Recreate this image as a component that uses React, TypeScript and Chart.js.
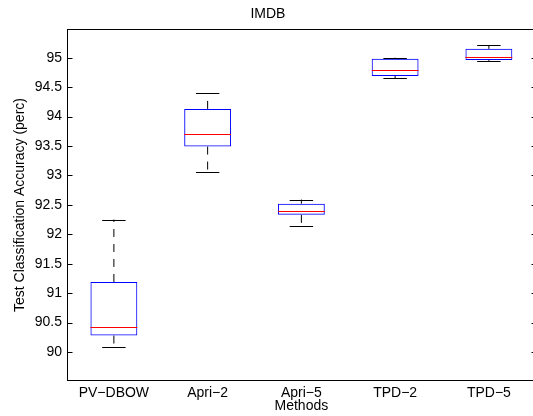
import React, { useEffect, useRef } from "react";
import { Chart, registerables } from "chart.js";

Chart.register(...registerables);

const methods = ["PV−DBOW", "Apri−2", "Apri−5", "TPD−2", "TPD−5"];
const whiskerLow = [90.085, 93.05, 92.14, 94.655, 94.94];
const q1 = [90.28, 93.49, 92.33, 94.69, 94.96];
const median = [90.42, 93.7, 92.4, 94.79, 95.01];
const q3 = [91.19, 94.13, 92.52, 94.98, 95.15];
const whiskerHigh = [92.25, 94.4, 92.59, 95.0, 95.21];
const yTicks = [90, 90.5, 91, 91.5, 92, 92.5, 93, 93.5, 94, 94.5, 95];

const FONT = "'Liberation Sans', Arial, Helvetica, sans-serif";

const boxExtras = {
  id: "boxExtras",
  beforeDatasetsDraw(chart: any) {
    const ctx = chart.ctx;
    const y = chart.scales.y;
    const meta = chart.getDatasetMeta(0);
    ctx.save();
    ctx.strokeStyle = "#000";
    ctx.lineWidth = 1;
    meta.data.forEach((bar: any, i: number) => {
      const x = bar.x;
      const half = bar.width / 2;
      const capHalf = half / 2;
      // dashed whiskers
      ctx.setLineDash([8, 7]);
      ctx.beginPath();
      ctx.moveTo(x, y.getPixelForValue(q3[i]));
      ctx.lineTo(x, y.getPixelForValue(whiskerHigh[i]));
      ctx.moveTo(x, y.getPixelForValue(q1[i]));
      ctx.lineTo(x, y.getPixelForValue(whiskerLow[i]));
      ctx.stroke();
      // caps
      ctx.setLineDash([]);
      ctx.beginPath();
      const yh = Math.round(y.getPixelForValue(whiskerHigh[i])) + 0.5;
      const yl = Math.round(y.getPixelForValue(whiskerLow[i])) + 0.5;
      ctx.moveTo(x - capHalf, yh);
      ctx.lineTo(x + capHalf, yh);
      ctx.moveTo(x - capHalf, yl);
      ctx.lineTo(x + capHalf, yl);
      ctx.stroke();
    });
    ctx.restore();
  },
  afterDatasetsDraw(chart: any) {
    const ctx = chart.ctx;
    const y = chart.scales.y;
    const meta = chart.getDatasetMeta(0);
    ctx.save();
    ctx.strokeStyle = "#ff0000";
    ctx.lineWidth = 1;
    meta.data.forEach((bar: any, i: number) => {
      const half = bar.width / 2;
      const ym = Math.round(y.getPixelForValue(median[i])) + 0.5;
      ctx.beginPath();
      ctx.moveTo(bar.x - half, ym);
      ctx.lineTo(bar.x + half, ym);
      ctx.stroke();
    });
    ctx.restore();
  },
  afterDraw(chart: any) {
    const ctx = chart.ctx;
    const a = chart.chartArea;
    const y = chart.scales.y;
    const l = Math.round(a.left) + 0.5;
    const r = Math.round(a.right) + 0.5;
    const t = Math.round(a.top - 0.5) + 0.5;
    const b = Math.round(a.bottom - 0.5) + 0.5;
    ctx.save();
    ctx.strokeStyle = "#000";
    ctx.lineWidth = 1;
    ctx.strokeRect(l, t, r - l, b - t);
    ctx.beginPath();
    yTicks.forEach((v) => {
      const py = Math.round(y.getPixelForValue(v)) + 0.5;
      ctx.moveTo(l, py);
      ctx.lineTo(l + 5, py);
      ctx.moveTo(r, py);
      ctx.lineTo(r - 5, py);
    });
    ctx.stroke();
    ctx.restore();
  },
};

export default function App() {
  const ref = useRef<HTMLCanvasElement | null>(null);
  useEffect(() => {
    if (!ref.current) return;
    const boxData = q1.map((v, i) => [v, q3[i]]);
    const chart = new Chart(ref.current, {
      type: "bar",
      data: {
        labels: methods,
        datasets: [
          {
            data: boxData as any,
            backgroundColor: "rgba(0,0,0,0)",
            borderColor: "#0000ff",
            borderWidth: 1,
            borderSkipped: false,
            barPercentage: 0.5,
            categoryPercentage: 1,
          },
        ],
      },
      options: {
        animation: false,
        responsive: false,
        devicePixelRatio: 1,
        layout: { padding: { left: 0, right: 4.25, top: 0, bottom: 0 } },
        plugins: {
          legend: { display: false },
          tooltip: { enabled: false },
          title: {
            display: true,
            text: "IMDB",
            color: "#000",
            font: { family: FONT, size: 14, weight: "normal" },
            padding: { top: 5.6, bottom: 7.1 },
          },
        },
        scales: {
          x: {
            offset: true,
            grid: { display: false, drawTicks: false },
            border: { display: false },
            ticks: {
              color: "#000",
              font: { family: FONT, size: 14 },
              padding: 4,
              maxRotation: 0,
              autoSkip: false,
            },
            title: {
              display: true,
              text: "Methods",
              color: "#000",
              font: { family: FONT, size: 14 },
              padding: { top: 0, bottom: 1.6 },
            },
            afterFit: (s: any) => {
              s.height = 35.5;
            },
          },
          y: {
            min: 89.516,
            max: 95.479,
            grid: { display: false, drawTicks: false },
            border: { display: false },
            afterBuildTicks: (s: any) => {
              s.ticks = yTicks.map((v) => ({ value: v }));
            },
            ticks: {
              color: "#000",
              font: { family: FONT, size: 14 },
              padding: 5,
              callback: (v: any) => String(v),
            },
            title: {
              display: true,
              text: "Test Classification Accuracy (perc)",
              color: "#000",
              font: { family: FONT, size: 14 },
              padding: { top: 11.6, bottom: 0 },
            },
            afterFit: (s: any) => {
              s.width = 67;
            },
          },
        },
      },
      plugins: [boxExtras],
    });
    return () => chart.destroy();
  }, []);
  return (
    <div
      style={{
        position: "fixed",
        left: 0,
        top: 0,
        width: 533,
        height: 416,
        overflow: "hidden",
        background: "#fff",
      }}
    >
      <canvas ref={ref} width={540} height={416} style={{ display: "block" }} />
    </div>
  );
}
